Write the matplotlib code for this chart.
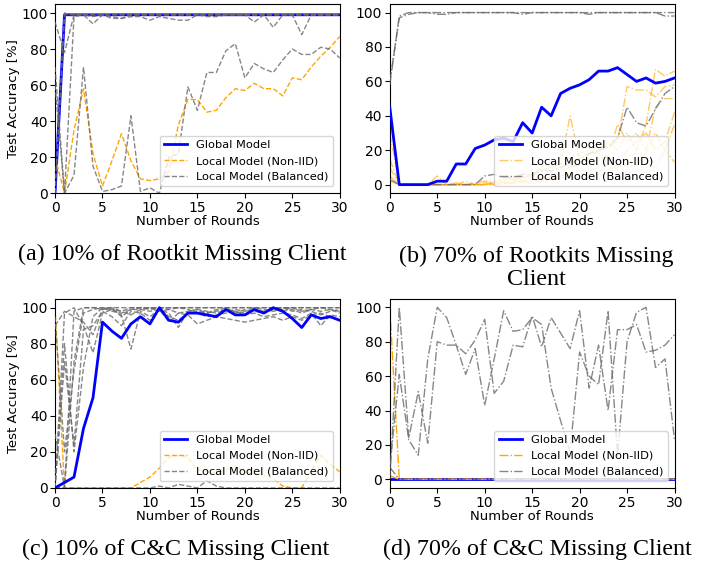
import numpy as np
import matplotlib.pyplot as plt

rounds = np.arange(31)

# (a) 10% of Rootkit missing client
glob_a = [0, 99, 99, 99, 99, 99, 99, 99, 99, 99, 99, 99, 99, 99, 99, 99,
          99, 99, 99, 99, 99, 99, 99, 99, 99, 99, 99, 99, 99, 99, 99]
noniid_a = [
    [20, 0, 35, 58, 22, 4, 18, 33, 18, 8, 7, 8, 12, 38, 52, 52, 45, 46, 53, 58, 57, 61,
     58, 58, 54, 64, 63, 70, 76, 81, 87],
]
balanced_a = [
    [70, 0, 10, 70, 15, 1, 2, 4, 43, 1, 3, 0, 20, 22, 59, 46, 67, 67, 79, 83, 64, 72,
     69, 67, 74, 80, 77, 77, 81, 80, 75],
    [95, 78, 99, 99, 94, 99, 98, 97, 98, 98, 96, 98, 97, 96, 96, 99, 98, 98, 99, 99, 99,
     95, 99, 92, 99, 99, 88, 99, 99, 99, 99],
    [0, 99, 99, 99, 98, 99, 97, 97, 99, 99, 99, 99, 99, 99, 99, 99, 99, 99, 99, 99, 99,
     99, 99, 99, 99, 99, 99, 99, 99, 99, 99],
    [0, 100, 99, 99, 99, 99, 99, 99, 99, 99, 99, 99, 99, 99, 99, 99, 99, 99, 99, 99, 99,
     99, 99, 99, 99, 99, 99, 99, 99, 99, 99],
    [60, 0, 98, 99, 99, 99, 99, 99, 99, 99, 99, 99, 99, 99, 99, 99, 99, 99, 99, 99, 99,
     99, 99, 99, 99, 99, 99, 99, 99, 99, 99],
]

# (b) 70% of Rootkits missing client
glob_b = [45, 0, 0, 0, 0, 2, 2, 12, 12, 21, 23, 26, 27, 25, 36, 30, 45, 40, 53, 56, 58,
          61, 66, 66, 68, 64, 60, 62, 59, 60, 62]
noniid_b = [
    [40, 0, 0, 0, 0, 5, 0, 0, 2, 0, 0, 1, 1, 2, 3, 5, 8, 10, 12, 40, 15, 18, 20, 22, 25,
     57, 55, 55, 51, 57, 58],
    [30, 0, 0, 0, 0, 0, 0, 1, 0, 1, 2, 2, 3, 3, 4, 6, 10, 12, 14, 16, 18, 20, 18, 25, 20,
     30, 20, 35, 67, 63, 66],
    [15, 0, 0, 0, 0, 0, 0, 0, 0, 0, 0, 1, 1, 1, 2, 3, 3, 5, 8, 10, 12, 15, 14, 17, 35,
     25, 30, 20, 45, 50, 50],
    [10, 0, 0, 0, 0, 0, 0, 0, 0, 0, 1, 1, 2, 3, 4, 6, 8, 10, 12, 10, 12, 15, 20, 15, 10,
     20, 25, 30, 20, 25, 42],
    [5, 0, 0, 0, 0, 0, 0, 0, 0, 0, 0, 0, 1, 1, 2, 2, 3, 4, 5, 6, 8, 8, 10, 12, 14, 10,
     12, 18, 30, 20, 13],
    [2, 0, 0, 0, 0, 0, 0, 0, 0, 0, 0, 0, 0, 1, 1, 1, 2, 3, 4, 5, 6, 7, 8, 9, 10, 12, 15,
     12, 10, 20, 35],
]
balanced_b = [
    [60, 97, 99, 100, 100, 99, 99, 100, 100, 100, 100, 100, 100, 100, 99, 100, 100, 100,
     100, 100, 100, 99, 100, 100, 100, 100, 100, 100, 100, 98, 98],
    [58, 98, 100, 100, 100, 100, 100, 100, 100, 100, 100, 100, 100, 100, 100, 100, 100,
     100, 100, 100, 100, 100, 100, 100, 100, 100, 100, 100, 100, 100, 100],
    [3, 0, 0, 0, 0, 0, 0, 0, 0, 0, 5, 6, 4, 4, 6, 6, 8, 8, 10, 12, 15, 18, 20, 22, 27,
     45, 36, 34, 44, 53, 57],
]

# (c) 10% of C&C missing client
glob_c = [0, 3, 6, 33, 50, 92, 87, 83, 91, 95, 91, 100, 93, 92, 97, 97, 96, 95, 99, 96,
          96, 99, 97, 100, 98, 94, 89, 96, 94, 95, 93]
noniid_c = [
    [100, 0, 0, 0, 0, 0, 0, 0, 0, 3, 6, 11, 17, 18, 17, 10, 9, 8, 10, 12, 9, 8, 7, 5, 1,
     0, 0, 10, 18, 13, 9],
]
balanced_c = [
    [90, 98, 95, 92, 85, 99, 100, 98, 100, 100, 100, 100, 100, 100, 100, 100, 100, 100,
     100, 100, 100, 100, 100, 100, 100, 100, 100, 100, 100, 100, 100],
    [0, 97, 100, 90, 75, 97, 99, 96, 77, 98, 95, 99, 97, 89, 98, 99, 98, 97, 99, 98, 97,
     99, 98, 99, 98, 99, 97, 99, 98, 99, 97],
    [0, 0, 70, 100, 100, 99, 100, 95, 99, 100, 99, 100, 99, 100, 99, 97, 95, 96, 97, 98,
     96, 97, 95, 96, 97, 96, 94, 97, 90, 96, 95],
    [0, 80, 20, 67, 95, 100, 98, 97, 99, 99, 98, 99, 92, 97, 96, 91, 93, 95, 94, 93, 92,
     93, 94, 95, 93, 95, 93, 96, 97, 95, 93],
    [0, 70, 24, 88, 90, 98, 95, 90, 98, 97, 93, 100, 95, 93, 97, 98, 97, 98, 100, 97, 99,
     98, 97, 99, 100, 98, 99, 98, 96, 98, 99],
    [30, 0, 98, 100, 100, 100, 100, 100, 100, 100, 100, 100, 100, 100, 100, 100, 100, 100,
     100, 100, 100, 100, 100, 100, 100, 100, 100, 100, 100, 100, 100],
    [95, 20, 65, 97, 99, 100, 99, 98, 96, 99, 100, 98, 99, 97, 98, 99, 97, 99, 98, 99, 98,
     100, 99, 98, 99, 100, 98, 99, 100, 99, 98],
    [0, 0, 0, 0, 0, 0, 0, 0, 0, 0, 0, 1, 0, 2, 1, 0, 4, 1, 0, 0, 0, 0, 0, 0, 0, 0, 0, 0,
     0, 0, 0],
]

# (d) 70% of C&C missing client
glob_d = [0] * 31
noniid_d = [
    [100] + [0] * 30,
    [2] + [0] * 30,
]
balanced_d = [
    [0, 100, 24, 51, 21, 80, 78, 78, 73, 81, 93, 50, 57, 78, 77, 95, 77, 94, 85, 76, 98,
     53, 78, 40, 87, 87, 90, 74, 75, 78, 84],
    [7, 61, 23, 14, 70, 100, 94, 78, 61, 76, 43, 70, 98, 86, 87, 94, 90, 53, 34, 16, 74,
     60, 55, 98, 14, 80, 97, 100, 65, 70, 23],
    [7] + [0] * 30,
]

captions = ["(a) 10% of Rootkit Missing Client",
            "(b) 70% of Rootkits Missing\nClient",
            "(c) 10% of C&C Missing Client",
            "(d) 70% of C&C Missing Client"]

panels = [
    (glob_a, noniid_a, balanced_a, "--", "--", 1.0, (0, 105), 1),
    (glob_b, noniid_b, balanced_b, "-.", "-.", 0.6, (-5, 105), 4),
    (glob_c, noniid_c, balanced_c, "--", "--", 1.0, (0, 105), 4),
    (glob_d, noniid_d, balanced_d, "-.", "-.", 1.0, (-5, 105), 1),
]

fig = plt.figure(figsize=(7.1, 5.7), dpi=100)
boxes = [
    [0.0775, 0.661, 0.401, 0.332],
    [0.549, 0.661, 0.401, 0.332],
    [0.0775, 0.144, 0.401, 0.332],
    [0.549, 0.144, 0.401, 0.332],
]

for i, (glob, noniid, bal, ls_o, ls_g, a_o, ylim, gz) in enumerate(panels):
    ax = fig.add_axes(boxes[i])
    for j, vals in enumerate(noniid):
        ax.plot(rounds, vals, color="orange", linestyle=ls_o, lw=1, alpha=a_o,
                label="Local Model (Non-IID)" if j == 0 else None, zorder=2)
    for j, vals in enumerate(bal):
        ax.plot(rounds, vals, color="dimgray", linestyle=ls_g, lw=1, alpha=0.8,
                label="Local Model (Balanced)" if j == 0 else None, zorder=3)
    ax.plot(rounds, glob, color="blue", lw=2, label="Global Model", zorder=gz)

    ax.set_xlim(0, 30)
    ax.set_ylim(*ylim)
    ax.set_xticks([0, 5, 10, 15, 20, 25, 30])
    ax.set_yticks([0, 20, 40, 60, 80, 100])
    ax.tick_params(labelsize=10, pad=2)
    ax.set_xlabel("Number of Rounds", fontsize=9.5, labelpad=0)
    if i % 2 == 0:
        ax.set_ylabel("Test Accuracy [%]", fontsize=9.5, labelpad=1)

    h, l = ax.get_legend_handles_labels()
    order = [l.index("Global Model"), l.index("Local Model (Non-IID)"),
             l.index("Local Model (Balanced)")]
    ax.legend([h[k] for k in order], [l[k] for k in order], loc="lower right",
              fontsize=8.2, borderaxespad=0.6)

fig.text(0.256, 0.554, captions[0], ha="center", va="center",
         family="Liberation Serif", fontsize=17.3)
fig.text(0.755, 0.530, captions[1], ha="center", va="center",
         family="Liberation Serif", fontsize=17.3, linespacing=1.15)
fig.text(0.248, 0.037, captions[2], ha="center", va="center",
         family="Liberation Serif", fontsize=17.3)
fig.text(0.757, 0.037, captions[3], ha="center", va="center",
         family="Liberation Serif", fontsize=17.3)

plt.savefig("out.png", dpi=100)
